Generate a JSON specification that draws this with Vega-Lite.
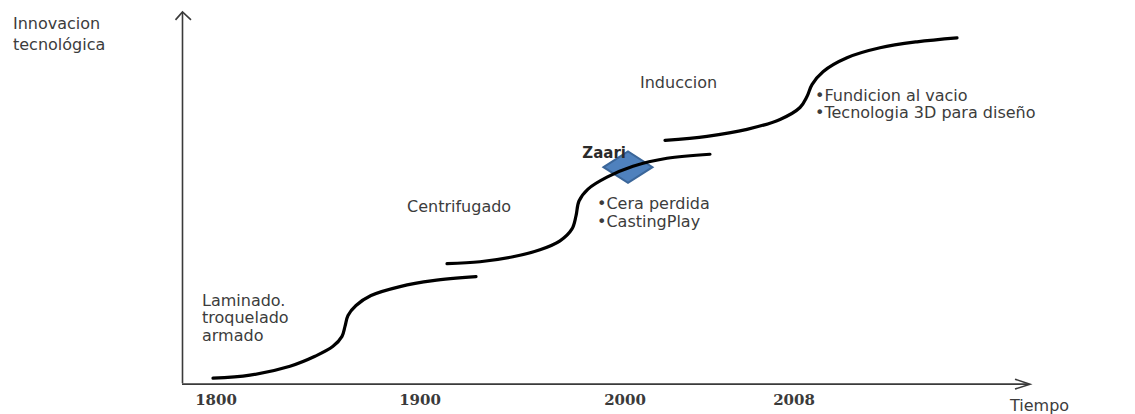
{
  "$schema": "https://vega.github.io/schema/vega-lite/v6.json",
  "width": 1135,
  "height": 414,
  "padding": 0,
  "autosize": {"type": "fit", "contains": "padding"},
  "background": "white",
  "config": {"view": {"stroke": null}},
  "datasets": {
    "ejes": [
      {"linea": "vertical", "i": 1, "x": 182.5, "y": 29},
      {"linea": "vertical", "i": 2, "x": 182.5, "y": 401},
      {"linea": "horizontal", "i": 1, "x": 182, "y": 28},
      {"linea": "horizontal", "i": 2, "x": 1029, "y": 28},
      {"linea": "flecha_v", "i": 1, "x": 175.5, "y": 394},
      {"linea": "flecha_v", "i": 2, "x": 182.5, "y": 402},
      {"linea": "flecha_v", "i": 3, "x": 191, "y": 394},
      {"linea": "flecha_h", "i": 1, "x": 1015, "y": 33},
      {"linea": "flecha_h", "i": 2, "x": 1030, "y": 28},
      {"linea": "flecha_h", "i": 3, "x": 1015, "y": 23}
    ],
    "curvas": [
      {"curva": "Laminado", "x": 213, "y": 34},
      {"curva": "Laminado", "x": 250, "y": 37},
      {"curva": "Laminado", "x": 290, "y": 46},
      {"curva": "Laminado", "x": 315, "y": 56},
      {"curva": "Laminado", "x": 333, "y": 66},
      {"curva": "Laminado", "x": 342, "y": 76},
      {"curva": "Laminado", "x": 345, "y": 86},
      {"curva": "Laminado", "x": 348, "y": 97},
      {"curva": "Laminado", "x": 356, "y": 107},
      {"curva": "Laminado", "x": 371, "y": 117},
      {"curva": "Laminado", "x": 400, "y": 126},
      {"curva": "Laminado", "x": 433, "y": 132},
      {"curva": "Laminado", "x": 476, "y": 136},
      {"curva": "Centrifugado", "x": 447, "y": 149},
      {"curva": "Centrifugado", "x": 480, "y": 151},
      {"curva": "Centrifugado", "x": 513, "y": 156},
      {"curva": "Centrifugado", "x": 540, "y": 163},
      {"curva": "Centrifugado", "x": 560, "y": 172},
      {"curva": "Centrifugado", "x": 572, "y": 184},
      {"curva": "Centrifugado", "x": 576, "y": 197},
      {"curva": "Centrifugado", "x": 579, "y": 212},
      {"curva": "Centrifugado", "x": 588, "y": 224},
      {"curva": "Centrifugado", "x": 607, "y": 236},
      {"curva": "Centrifugado", "x": 633, "y": 247},
      {"curva": "Centrifugado", "x": 667, "y": 255},
      {"curva": "Centrifugado", "x": 710, "y": 259},
      {"curva": "Induccion", "x": 665, "y": 273},
      {"curva": "Induccion", "x": 707, "y": 277},
      {"curva": "Induccion", "x": 747, "y": 284},
      {"curva": "Induccion", "x": 780, "y": 294},
      {"curva": "Induccion", "x": 800, "y": 306},
      {"curva": "Induccion", "x": 807, "y": 317},
      {"curva": "Induccion", "x": 812, "y": 329},
      {"curva": "Induccion", "x": 823, "y": 342},
      {"curva": "Induccion", "x": 847, "y": 356},
      {"curva": "Induccion", "x": 880, "y": 366},
      {"curva": "Induccion", "x": 917, "y": 372},
      {"curva": "Induccion", "x": 957, "y": 376}
    ],
    "anios": [
      {"anio": "1800", "x": 216, "y": 12},
      {"anio": "1900", "x": 420, "y": 12},
      {"anio": "2000", "x": 625, "y": 12},
      {"anio": "2008", "x": 794, "y": 12}
    ],
    "etiquetas": [
      {"texto": "Innovacion", "x": 13, "y": 390},
      {"texto": "tecnológica", "x": 13, "y": 369},
      {"texto": "Tiempo", "x": 1010, "y": 6},
      {"texto": "Laminado.", "x": 202, "y": 112},
      {"texto": "troquelado", "x": 202, "y": 94},
      {"texto": "armado", "x": 202, "y": 76},
      {"texto": "Centrifugado", "x": 407, "y": 206},
      {"texto": "•Cera perdida", "x": 597, "y": 209},
      {"texto": "•CastingPlay", "x": 597, "y": 191},
      {"texto": "Induccion", "x": 640, "y": 331},
      {"texto": "•Fundicion al vacio", "x": 815, "y": 318},
      {"texto": "•Tecnologia 3D para diseño", "x": 815, "y": 300}
    ],
    "marca": [
      {"nombre": "Zaari", "x": 628, "y": 246}
    ]
  },
  "encoding": {
    "x": {"field": "x", "type": "quantitative", "scale": {"domain": [0, 1135], "nice": false, "zero": false}, "axis": null},
    "y": {"field": "y", "type": "quantitative", "scale": {"domain": [0, 414], "nice": false, "zero": false}, "axis": null}
  },
  "layer": [
    {
      "data": {"name": "ejes"},
      "mark": {"type": "line", "stroke": "#3a3a3a", "strokeWidth": 1.6},
      "encoding": {
        "detail": {"field": "linea"},
        "order": {"field": "i", "type": "quantitative"}
      }
    },
    {
      "data": {"name": "marca"},
      "mark": {
        "type": "point",
        "shape": "M -1 0 L 0 -0.64 L 1 0 L 0 0.64 Z",
        "size": 2400,
        "filled": true,
        "fill": "#4f81bd",
        "stroke": "#3b6699",
        "strokeWidth": 2,
        "opacity": 1
      }
    },
    {
      "data": {"name": "marca"},
      "mark": {"type": "text", "align": "right", "baseline": "middle", "dx": -2, "dy": -14, "font": "DejaVu Sans", "fontWeight": "bold", "fontSize": 15, "fill": "#2b2b2b"},
      "encoding": {"text": {"field": "nombre"}}
    },
    {
      "data": {"name": "curvas"},
      "mark": {"type": "line", "stroke": "#000000", "strokeWidth": 3.2, "interpolate": "catmull-rom", "strokeCap": "round"},
      "encoding": {"detail": {"field": "curva"}}
    },
    {
      "data": {"name": "anios"},
      "mark": {"type": "text", "align": "center", "baseline": "middle", "font": "DejaVu Serif", "fontWeight": "bold", "fontSize": 15, "fill": "#3a3a3a"},
      "encoding": {"text": {"field": "anio"}}
    },
    {
      "data": {"name": "etiquetas"},
      "mark": {"type": "text", "align": "left", "baseline": "middle", "font": "DejaVu Sans", "fontSize": 16, "fill": "#3c3c3c"},
      "encoding": {"text": {"field": "texto"}}
    }
  ]
}
